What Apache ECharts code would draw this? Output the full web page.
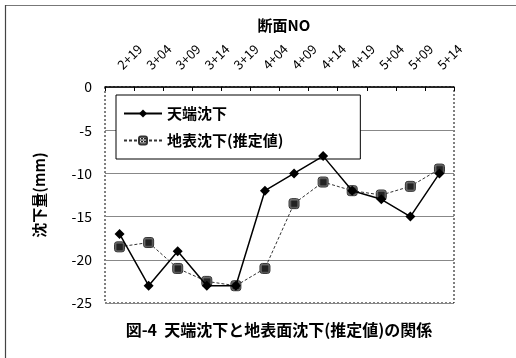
<!DOCTYPE html>
<html>
<head>
<meta charset="utf-8">
<script src="https://cdn.jsdelivr.net/npm/echarts@6/dist/echarts.min.js"></script>
<style>
  html, body { margin: 0; padding: 0; background: #fff; }
  #chart { width: 516px; height: 358px; }
</style>
</head>
<body>
<div id="chart"></div>
<script>
// 断面 (section) labels along the top axis
const sections = ['2+19', '3+04', '3+09', '3+14', '3+19', '4+04', '4+09', '4+14', '4+19', '5+04', '5+09', '5+14'];
// 天端沈下 (crown settlement), mm
const crownSettlement = [-17, -23, -19, -23, -23, -12, -10, -8, -12, -13, -15, -10];
// 地表沈下 (estimated surface settlement), mm
const surfaceSettlement = [-18.5, -18, -21, -22.5, -23, -21, -13.5, -11, -12, -12.5, -11.5, -9.5];
const yTicks = [0, -5, -10, -15, -20, -25];

const FONT = '"Noto Sans CJK JP", "DejaVu Sans", sans-serif';

// cross-hatched fill for the surface-settlement markers
function hatchPattern() {
  const c = document.createElement('canvas');
  c.width = 3; c.height = 3;
  const g = c.getContext('2d');
  g.fillStyle = '#ffffff';
  g.fillRect(0, 0, 3, 3);
  g.fillStyle = '#222222';
  g.fillRect(0, 0, 1, 1);
  g.fillRect(2, 0, 1, 1);
  g.fillRect(1, 1, 1, 1);
  g.fillRect(0, 2, 1, 1);
  g.fillRect(2, 2, 1, 1);
  return { image: c, repeat: 'repeat' };
}

const chart = echarts.init(document.getElementById('chart'), null, { renderer: 'canvas' });

chart.setOption({
  animation: false,
  backgroundColor: '#ffffff',
  textStyle: { fontFamily: FONT },
  // axis caption above the section labels
  title: {
    text: '断面NO',
    left: 284,
    top: 18,
    textAlign: 'center',
    padding: 0,
    textStyle: { fontFamily: FONT, fontSize: 15, fontWeight: 'bold', color: '#000' }
  },
  grid: {
    left: 105, right: 62, top: 87, bottom: 55,
    show: true,
    borderColor: '#000',
    borderWidth: 1,
    borderType: [2, 2]
  },
  legend: {
    orient: 'vertical',
    left: 116, top: 95,
    z: 1,
    padding: [11, 77, 11, 7],
    itemGap: 12,
    itemWidth: 38,
    itemHeight: 10,
    borderColor: '#000',
    borderWidth: 1,
    backgroundColor: '#fff',
    textStyle: { fontFamily: FONT, fontSize: 15, fontWeight: 'bold', color: '#000' },
    data: ['天端沈下', '地表沈下(推定値)']
  },
  xAxis: {
    type: 'category',
    position: 'top',
    data: sections,
    boundaryGap: true,
    axisLine: { show: true, lineStyle: { color: '#000', width: 1.5 } },
    axisTick: { show: true, inside: true, length: 4, lineStyle: { color: '#000' } },
    axisLabel: {
      rotate: 45,
      align: 'left',
      verticalAlign: 'middle',
      margin: 20,
      fontFamily: FONT,
      fontSize: 13,
      color: '#000'
    },
    splitLine: { show: false }
  },
  yAxis: {
    type: 'value',
    min: -25, max: 0, interval: 5,
    name: '沈下量(mm)',
    nameLocation: 'middle',
    nameRotate: 90,
    nameGap: 58,
    nameTextStyle: { fontFamily: FONT, fontSize: 15, fontWeight: 'bold', color: '#000' },
    axisLine: { show: false },
    axisTick: { show: false },
    axisLabel: {
      margin: 13,
      fontFamily: FONT,
      fontSize: 14,
      color: '#000',
      formatter: v => yTicks.indexOf(v) >= 0 ? String(v) : ''
    },
    splitLine: { show: true, lineStyle: { color: '#888', width: 1 } }
  },
  series: [
    {
      name: '天端沈下',
      type: 'line',
      data: crownSettlement,
      symbol: 'diamond',
      symbolSize: 10,
      lineStyle: { color: '#000', width: 1.5 },
      itemStyle: { color: '#000' },
      z: 3
    },
    {
      name: '地表沈下(推定値)',
      type: 'line',
      data: surfaceSettlement,
      symbol: 'roundRect',
      symbolSize: 10,
      lineStyle: { color: '#333', width: 1, type: [3, 2] },
      itemStyle: { color: hatchPattern(), borderColor: '#333', borderWidth: 1 },
      z: 2
    }
  ],
  graphic: [
    // page frame lines
    { type: 'line', shape: { x1: 5, y1: 5.5, x2: 516, y2: 5.5 }, style: { stroke: '#777', lineWidth: 1 } },
    { type: 'line', shape: { x1: 5.5, y1: 5, x2: 5.5, y2: 358 }, style: { stroke: '#444', lineWidth: 1.2 } },
    // caption
    {
      type: 'text',
      x: 279,
      y: 330,
      style: {
        text: '図-4  天端沈下と地表面沈下(推定値)の関係',
        fontFamily: FONT,
        fontSize: 16,
        fontWeight: 'bold',
        fill: '#000',
        align: 'center',
        verticalAlign: 'middle'
      }
    }
  ]
});
</script>
</body>
</html>
